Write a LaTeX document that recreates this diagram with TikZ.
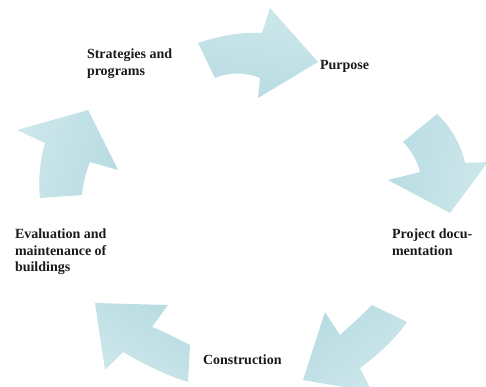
\documentclass[tikz,border=0pt]{standalone}
\usepackage{fontspec}
\setmainfont{Liberation Serif}
\definecolor{arrlight}{HTML}{CDE7EB}
\definecolor{arrdark}{HTML}{B8DCE2}
\definecolor{txt}{HTML}{1A1A1A}
\tikzset{
  cyclearrow/.style={draw=none, left color=arrlight, right color=arrdark},
  lbl/.style={inner sep=0pt, outer sep=0pt, text=txt, align=left,
    font=\fontsize{14}{16.7}\selectfont\bfseries}
}
\begin{document}
\begin{tikzpicture}[x=1pt,y=-1pt]
\useasboundingbox (0,0) rectangle (486,387);
% arrows
\path[cyclearrow, shading angle=-10] (198,43) .. controls (225,34) and (245,32) .. (262,33) -- (270,8) -- (318,62) -- (258,98) -- (260,78) .. controls (245,72) and (230,72) .. (215,78) -- cycle;
\path[cyclearrow, shading angle=-100] (437,114) .. controls (452,128) and (461,145) .. (465,163) -- (488,162) -- (450,213) -- (388,180) -- (420,172) .. controls (417,160) and (411,150) .. (403,142) -- cycle;
\path[cyclearrow, shading angle=-142] (372,305) -- (407,322) .. controls (396,338) and (378,355) .. (360,368) -- (372,392) -- (303,380) -- (325,312) -- (340,335) .. controls (350,326) and (361,316) .. (372,305) -- cycle;
\path[cyclearrow, shading angle=147] (188,382) -- (190,345) .. controls (178,339) and (163,331) .. (152,327) -- (168,305) -- (95,303) -- (105,370) -- (123,352) .. controls (140,362) and (165,375) .. (188,382) -- cycle;
\path[cyclearrow, shading angle=73] (40,198) -- (82,195) .. controls (83,183) and (86,172) .. (90,162) -- (118,170) -- (88,110) -- (17,130) -- (45,143) .. controls (40,160) and (38,180) .. (40,198) -- cycle;
% labels
\node[lbl, anchor=north west] (strat) at (87,48.8) {Strategies and\\programs};
\node[lbl, anchor=base west] (purp) at (320,70) {Purpose};
\node[lbl, anchor=north west] (proj) at (392,228.8) {Project docu-\\mentation};
\node[lbl, anchor=base west] (cons) at (203,364.3) {Construction};
\node[lbl, anchor=north west] (eval) at (15,228.8) {Evaluation and\\maintenance of\\buildings};
\end{tikzpicture}
\end{document}
